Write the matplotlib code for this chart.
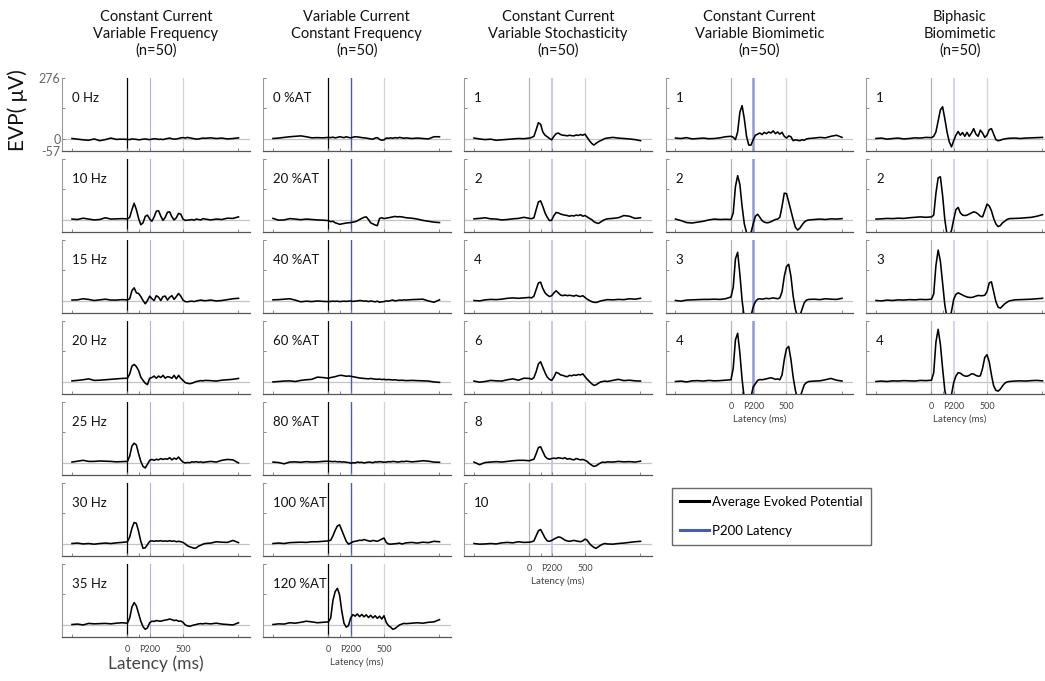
import matplotlib
matplotlib.use("Agg")
import matplotlib.pyplot as plt
from matplotlib.lines import Line2D

plt.rcParams['font.family'] = ['Lato', 'DejaVu Sans']

# ---------------- data ----------------
time_ms = (list(range(-500, 0, 50)) + list(range(0, 720, 20)) + list(range(750, 1001, 50)))

col_titles = ["Constant Current\nVariable Frequency\n(n=50)",
              "Variable Current\nConstant Frequency\n(n=50)",
              "Constant Current\nVariable Stochasticity\n(n=50)",
              "Constant Current\nVariable Biomimetic\n(n=50)",
              "Biphasic\nBiomimetic\n(n=50)"]

freq_labels = ["0 Hz", "10 Hz", "15 Hz", "20 Hz", "25 Hz", "30 Hz", "35 Hz"]
freq_0 = [0, -3, -6, -8, -2, -10, -5, 2, -4, -3,
          -4, -5, -2, -3, -4, -6, -5, -3, -2, -4, -5, -3, -1, -2, -4, -3, -5, -2, 0, 2, -1, -3, -2, 0, 3, 4, 2, 5, 3, 1, -1, -3, -2, 0, 2, 1,
          3, 0, 2, -2, 0, 3]
freq_10 = [2, 0, 6, 2, -2, 0, 8, 2, 3, 4,
           3, 10, 45, 74, 45, 5, -24, -15, 14, 20, 2, -8, 12, 38, 40, 15, -4, 10, 33, 35, 12, -2, 8, 28, 24, 2, -4, -3, -2, 0, -3, 2, 0, -2, 4, 2,
           -2, 2, 0, 6, 5, 12]
freq_15 = [2, 3, 8, 5, 0, 3, 6, 2, 2, 4,
           3, 8, 45, 58, 35, 32, 18, 0, -15, 0, 20, 8, 0, 22, 15, 0, 18, 20, 2, 15, 22, 5, 18, 32, 20, 2, -5, -6, -4, -3, -5, -2, 0, 2, 0, -1,
           2, -2, 0, 4, 8, 10]
freq_20 = [3, 5, 8, 12, 5, 6, 8, 10, 12, 14,
           15, 35, 70, 78, 68, 50, 20, 5, -8, -14, 15, 18, 25, 15, 25, 18, 28, 15, 22, 20, 15, 28, 12, 28, 15, 5, -5, -8, -10, -8, -4, 0, 2, 4, 3, 5,
           4, 2, 6, 8, 10, 14]
freq_25 = [2, 6, 10, 5, 5, 7, 6, 5, 3, 4,
           5, 30, 75, 88, 80, 40, 5, -18, -25, -8, 10, 14, 10, 15, 12, 18, 14, 17, 15, 22, 12, 20, 15, 25, 12, 2, -2, 0, -1, 3, 2, 4, 1, 3, 0, 2,
           5, 2, 10, 14, 12, -2]
freq_30 = [0, 2, -2, 0, -3, 0, 2, 0, 3, 5,
           8, 30, 70, 96, 92, 55, 10, -22, -20, -5, 10, 12, 10, 12, 11, 13, 10, 12, 10, 13, 10, 12, 8, 10, 8, 5, -2, -10, -15, -18, -22, -20, -12, -8, -3, 0,
           2, 8, 6, 5, 14, 4]
freq_35 = [0, 2, -2, 5, 3, 4, 5, 3, 6, 8,
           6, 30, 80, 100, 85, 50, 15, -10, -22, -15, 8, 15, 14, 18, 16, 15, 18, 20, 22, 25, 22, 18, 20, 15, 16, 10, -2, -6, -8, -5, -2, 0, 3, 4, 3, 5,
           3, 6, 2, 0, -2, 8]

amp_labels = ["0 %AT", "20 %AT", "40 %AT", "60 %AT", "80 %AT", "100 %AT", "120 %AT"]
amp_0 = [0, 2, 5, 8, 10, 12, 8, 3, 4, 3,
         5, 4, 6, 3, 5, 8, 6, 4, 8, 5, 3, 6, 8, 7, 6, 4, 3, 2, 0, -2, -3, 2, 4, -4, -8, -6, 2, 1, 3, 1, 4, 2, 5, 3, 1, 3,
         0, 2, 0, -2, 8, 8]
amp_20 = [5, -3, -2, 4, 2, -1, 2, 0, -2, -3,
          -5, -10, -8, -15, -18, -22, -20, -18, -16, -15, -14, -12, -10, -6, 0, 5, 10, 12, 0, -15, -20, -25, -28, 5, 8, 4, 6, 8, 10, 12, 14, 12, 13, 12, 10, 8,
          6, 2, -4, -8, -12, -14]
amp_40 = [3, 4, 6, 8, 2, -6, -3, -5, -2, -4,
          -5, -4, -3, -4, -3, -5, -4, -3, -4, -3, -2, -4, -3, -2, 0, -1, -3, -2, -5, -2, -4, -6, -3, -8, -6, -5, -2, -3, 0, 2, -2, 0, 2, 1, 3, 2,
          4, 5, 6, -2, -8, 3]
amp_60 = [-2, 0, 2, 3, 0, 5, 8, 10, 20, 18,
          15, 18, 20, 22, 25, 28, 28, 26, 24, 25, 24, 22, 20, 18, 16, 15, 14, 13, 12, 14, 12, 11, 10, 11, 9, 10, 8, 9, 8, 7, 8, 6, 5, 6, 5, 4,
          5, 4, 3, 2, -2, -4]
amp_80 = [2, 0, -6, 2, 3, 1, 4, 2, 3, 5,
          6, 5, 4, 5, 3, 4, 2, 3, 1, 0, -3, -1, -2, 2, 0, 1, -2, 0, 2, 1, -1, 3, 2, 4, 3, 1, 2, 4, 3, 5, 4, 2, 3, 5, 4, 6,
          3, 5, 8, 6, 2, 1]
amp_100 = [0, 2, 0, 4, 5, 6, 5, 8, 8, 10,
           12, 15, 35, 60, 80, 85, 60, 35, 10, -3, 2, 8, 10, 12, 15, 14, 18, 15, 12, 10, 14, 12, 10, 15, 20, 25, 5, -2, -3, -2, -1, 0, 2, -2, 0, 3,
           5, 2, 6, 4, 10, 8]
amp_120 = [0, 3, 2, 8, 6, 10, 15, 12, 8, 10,
           12, 30, 110, 150, 165, 135, 60, 5, -12, -5, 30, 45, 38, 48, 36, 46, 35, 44, 32, 42, 30, 40, 28, 38, 25, 40, 10, -5, -12, -22, -18, -10, -2, 2, 5, 4,
           6, 8, 6, 10, 12, 22]

stoch_labels = ["1", "2", "4", "6", "8", "10"]
stoch_1 = [2, -2, -5, -3, -8, -6, -4, -2, 0, -1,
           2, 5, 10, 40, 72, 65, 30, 15, 8, 0, -6, 10, 22, 25, 18, 15, 14, 12, 15, 13, 12, 16, 14, 18, 15, 20, 5, -10, -22, -30, -22, -15, -10, -5, 0, 2,
           5, 2, 0, -2, -5, -10]
stoch_2 = [3, 5, 8, 3, 2, -2, 0, 3, 5, 10,
           5, 4, 8, 45, 80, 85, 60, 30, 10, -5, -3, 18, 32, 30, 25, 22, 20, 18, 15, 18, 16, 20, 18, 22, 15, 18, 12, 5, 0, -10, -15, -18, -12, -5, 0, 3,
           5, 8, 18, 15, 5, 8]
stoch_4 = [0, -2, 3, 5, 4, 6, 10, 12, 10, 12,
           14, 12, 20, 50, 80, 84, 55, 35, 25, 18, 22, 35, 44, 35, 25, 22, 25, 22, 24, 22, 20, 24, 20, 18, 22, 14, 6, 0, -5, -8, -9, -6, -2, 0, 2, 4,
           3, 5, 4, 8, 6, 10]
stoch_6 = [2, -3, 0, 5, 3, 2, 8, 12, 6, 15,
           14, 10, 18, 45, 80, 90, 65, 40, 20, 10, 5, 20, 42, 38, 30, 28, 24, 22, 28, 26, 30, 28, 32, 30, 35, 22, 10, 0, -10, -18, -15, -8, -2, 0, 2, 0,
           5, 10, 4, 6, 3, 2]
stoch_8 = [2, -10, 0, 2, 4, 2, 5, 8, 10, 10,
           8, 12, 15, 40, 68, 72, 50, 28, 18, 15, 18, 20, 18, 22, 20, 18, 22, 15, 18, 14, 12, 18, 15, 12, 14, 10, 5, -5, -12, -18, -15, -8, -2, 2, 0, 3,
           2, 5, 3, 4, 2, 6]
stoch_10 = [0, -3, -2, 0, -2, 3, 5, 3, 8, 5,
            6, 8, 12, 35, 58, 64, 45, 25, 12, 10, 14, 20, 25, 30, 28, 22, 15, 12, 10, 12, 14, 12, 10, 8, 12, 20, 15, 0, -10, -18, -22, -15, -8, -3, 0, -2,
            -3, 0, 2, 5, 8, 10]

bio_labels = ["1", "2", "3", "4"]
bio_1 = [2, 0, 4, -2, 0, 2, -1, 0, 3, 8,
         10, 6, -5, 30, 120, 150, 90, 10, -30, -30, -5, 15, 20, 25, 18, 28, 22, 30, 25, 35, 22, 30, 20, 28, 10, 2, 12, 8, -10, -6, -8, -10, -6, -8, -2, 0,
         2, 5, 3, 10, 15, 5]
bio_2 = [2, -5, -14, -16, -12, -8, -2, 2, 0, 1,
         0, 30, 150, 200, 160, 60, -20, -60, -70, -60, -20, 15, 24, 10, -5, -12, -15, -14, -10, -5, 0, 2, 10, 60, 120, 118, 80, 40, 0, -35, -48, -40, -25, -12, -5, -2,
         0, 2, 0, 3, 2, 4]
bio_3 = [0, -3, 2, 3, 4, 5, 5, 6, 5, 8,
         16, 60, 190, 220, 120, 0, -80, -110, -100, -70, -30, -5, 6, 8, 6, 8, 10, 8, 10, 12, 10, 8, 12, 40, 110, 155, 165, 110, 20, -40, -75, -70, -40, -10, 2, 5,
         6, 4, 8, 6, 5, 10]
bio_4 = [0, 2, -2, 3, 4, 2, 5, 3, 4, 6,
         8, 60, 190, 220, 130, 10, -80, -110, -100, -70, -25, -10, 5, 9, 8, 10, 12, 15, 17, 14, 10, 12, 8, 30, 100, 150, 160, 100, 20, -40, -80, -75, -45, -15, -5, 0,
         2, 3, 8, 14, 6, 2]

biph_labels = ["1", "2", "3", "4"]
biph_1 = [0, 2, -3, 0, 2, -2, 0, 3, 2, 5,
          4, 10, 30, 80, 130, 145, 90, 30, -15, -38, -10, 15, 32, 15, 27, 10, 28, 10, 25, 45, 20, 10, 38, 25, 5, 15, 40, 45, 20, -5, -10, -8, -4, -2, 0, 1,
          2, 0, 2, 3, 4, 5]
biph_2 = [2, 3, 5, 4, 6, 5, 8, 10, 12, 10,
          12, 20, 120, 190, 195, 110, 0, -70, -75, -50, 0, 45, 55, 30, 20, 18, 20, 25, 30, 35, 32, 25, 15, 12, 40, 70, 62, 40, 5, -20, -32, -28, -15, -8, 0, 4,
          5, 6, 8, 10, 15, 22]
biph_3 = [0, -2, 2, 0, 3, 2, 4, 3, 5, 4,
          6, 30, 160, 230, 180, 80, -20, -80, -90, -50, 5, 28, 35, 30, 25, 20, 16, 14, 14, 16, 20, 23, 22, 22, 24, 40, 80, 85, 40, -5, -30, -35, -25, -15, -8, -2,
          3, 4, 5, 6, 8, 10]
biph_4 = [0, 2, 0, 3, 2, 4, 3, 2, 5, 4,
          6, 40, 180, 238, 170, 60, -40, -90, -95, -60, -5, 25, 40, 38, 30, 25, 24, 28, 35, 34, 28, 24, 26, 60, 110, 122, 90, 30, -20, -40, -44, -35, -20, -8, -2, 0,
          2, 3, 2, 4, 5, 3]

columns_data = [
    (freq_labels, [freq_0, freq_10, freq_15, freq_20, freq_25, freq_30, freq_35]),
    (amp_labels, [amp_0, amp_20, amp_40, amp_60, amp_80, amp_100, amp_120]),
    (stoch_labels, [stoch_1, stoch_2, stoch_4, stoch_6, stoch_8, stoch_10]),
    (bio_labels, [bio_1, bio_2, bio_3, bio_4]),
    (biph_labels, [biph_1, biph_2, biph_3, biph_4]),
]

y_min, y_max = -57, 276
x_lim = (-590, 1100)

# ---------------- style ----------------
W, H = 1045, 681
fig = plt.figure(figsize=(W / 100, H / 100), dpi=100)

col_left = [62, 263, 464, 665.5, 866]
ax_w = 187.6
row_top0, row_pitch, ax_h = 78, 81, 73

zero_vline = ['black', 'black', '#b4b4b4', '#b4b4b4', '#b4b4b4']
p200_color = ['#aab4e6', '#4a5cb0', '#c6cae9', '#8f9ad6', '#c9cdee']
p200_lw = [0.8, 1.0, 1.4, 1.8, 1.2]

for c, (labels, series) in enumerate(columns_data):
    n = len(series)
    for r in range(n):
        top = row_top0 + r * row_pitch
        ax = fig.add_axes([col_left[c] / W, 1 - (top + ax_h) / H, ax_w / W, ax_h / H])
        ax.set_xlim(*x_lim)
        ax.set_ylim(y_min, y_max)
        ax.axhline(0, color='#c4c4c4', lw=0.9, zorder=1)
        ax.axvline(0, color=zero_vline[c], lw=0.9, zorder=1)
        ax.axvline(500, color='#d4d4d4', lw=0.9, zorder=1)
        ax.axvline(200, color=p200_color[c], lw=p200_lw[c], zorder=1)
        ax.plot(time_ms, series[r], color='black', lw=1.15, zorder=3)
        ax.text(0.055, 0.73, labels[r], transform=ax.transAxes, fontsize=9.5,
                ha='left', va='center', color='#111111', zorder=4)
        for s in ['top', 'right']:
            ax.spines[s].set_visible(False)
        ax.spines['left'].set_color('#9a9a9a')
        ax.spines['bottom'].set_color('#555555')
        ax.spines['left'].set_linewidth(0.8)
        ax.spines['bottom'].set_linewidth(0.9)
        ax.tick_params(direction='in', length=2.5, width=0.7, colors='#888888')
        if c == 0 and r == 0:
            ax.set_yticks([-57, 0, 138, 276])
            ax.set_yticklabels(['-57', '0', '', '276'], fontsize=9, color='#666666')
            ax.tick_params(axis='y', pad=1, labelcolor='#666666')
        else:
            ax.set_yticks([138, 276])
            ax.set_yticklabels([])
        ax.set_xticks([-500, 0, 100, 200, 500, 1000])
        if r == n - 1:
            ax.set_xticklabels(['', '0', '', 'P200', '500', ''], fontsize=6.5, color='#444444')
            ax.tick_params(axis='x', pad=6, labelcolor='#444444')
            if c == 0:
                ax.set_xlabel('Latency (ms)', fontsize=12.5, color='#444444', labelpad=1)
            else:
                ax.set_xlabel('Latency (ms)', fontsize=7, color='#444444', labelpad=2)
        else:
            ax.set_xticklabels([])
    # column title
    cx = (col_left[c] + ax_w / 2) / W
    fig.text(cx, 1 - 34 / H, col_titles[c], ha='center', va='center', fontsize=10.5,
             linespacing=1.25, color='#111111')

fig.text(18 / W, 1 - 110 / H, 'EVP( μV)', rotation=90, ha='center', va='center',
         fontsize=15, color='#111111')

# legend
handles = [Line2D([0], [0], color='black', lw=2.2),
           Line2D([0], [0], color='#4a5cb0', lw=2.2)]
fig.legend(handles, ['Average Evoked Potential', 'P200 Latency'],
           loc='upper left', bbox_to_anchor=(665 / W, 1 - 481 / H),
           frameon=True, fontsize=9.5, handlelength=2.2, handletextpad=0.3,
           labelspacing=1.3, borderpad=0.6, fancybox=False, edgecolor='#444444')

fig.savefig('out.png', dpi=100)
